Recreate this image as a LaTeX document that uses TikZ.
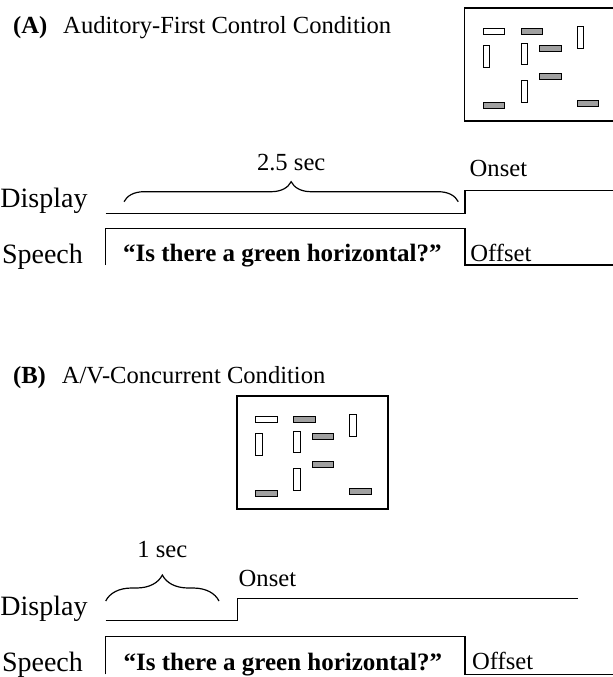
\documentclass[tikz,border=0pt]{standalone}
\usepackage{fontspec}
\setmainfont{Liberation Serif}
\usepackage{tikz}
\usetikzlibrary{decorations.pathreplacing}
\definecolor{bargray}{RGB}{160,160,160}
\tikzstyle{signal} = [draw, black, line width=0.6pt]
\tikzstyle{stimframe} = [draw, black, line width=0.75pt]
\tikzstyle{whitebar} = [draw, black, line width=0.5pt, fill=white]
\tikzstyle{greybar} = [whitebar, fill=bargray]
\tikzstyle{heading} = [anchor=base west, inner sep=0pt, font=\fontsize{12.3}{14}\selectfont]
\tikzstyle{rowname} = [anchor=base east, inner sep=0pt, font=\fontsize{14}{16}\selectfont]
\tikzstyle{marktext} = [anchor=base west, inner sep=0pt, font=\fontsize{12.3}{14}\selectfont]
\tikzstyle{timetext} = [anchor=base, inner sep=0pt, font=\fontsize{12.3}{14}\selectfont]
\tikzstyle{quotetext} = [anchor=base west, inner sep=0pt, font=\bfseries\fontsize{12.5}{15}\selectfont]
\tikzset{timebrace/.style={draw, black, line width=0.6pt, decorate, decoration={brace, amplitude=#1}}}
% search display: frame plus ten bars, top left corner at #1,#2
\newcommand{\stimpanel}[2]{
	\begin{scope}[shift={(#1,#2)}]
		\draw[stimframe] (0,0) rectangle (151,113);
		\foreach \bx/\by in {19/20, 113/92.5, 19/94, 75.5/37.5, 75.5/65, 57/20}
			\draw[greybar] (\bx,\by) rectangle ++(21.5,6.3);
		\draw[whitebar] (19,20) rectangle ++(21.5,6.3);
		\foreach \bx/\by in {113/18.5, 19/37.5, 57/35, 57/72.5}
			\draw[whitebar] (\bx,\by) rectangle ++(6.3,21.7);
	\end{scope}
}

\begin{document}
\begin{tikzpicture}[x=0.5pt, y=-0.5pt]
	\useasboundingbox (0,0) rectangle (613,677);

	% (A) auditory first
	\node[heading] (titleA) at (12.7,33){\textbf{(A)}\hspace{8pt}Auditory-First Control Condition};
	\stimpanel{464.3}{8}
	\node[rowname] (displayA) at (88,207.3){Display};
	\node[rowname] (speechA) at (83.3,263.3){Speech};
	\draw[signal] (105.7,213.3) -- (465,213.3) -- (465,190.7) -- (613,190.7);
	\draw[signal] (105.7,265) -- (105.7,228.3) -- (465,228.3) -- (465,265) -- (613,265);
	\draw[timebrace=10pt] (124,201.7) -- (458.3,201.7);
	\node[timetext] (delayA) at (291.2,170){2.5 sec};
	\node[marktext] (onsetA) at (469.3,176){Onset};
	\node[marktext] (offsetA) at (470,261.7){Offset};
	\node[quotetext] (queryA) at (122.7,261.7){``Is there a green horizontal?''};

	% (B) concurrent
	\node[heading] (titleB) at (12.7,383){\textbf{(B)}\hspace{8pt}A/V-Concurrent Condition};
	\stimpanel{237}{396}
	\node[rowname] (displayB) at (88,615){Display};
	\node[rowname] (speechB) at (83.3,671){Speech};
	\draw[signal] (105.7,620.5) -- (237.7,620.5) -- (237.7,598.3) -- (577.7,598.3);
	\draw[signal] (105.7,674.3) -- (105.7,636.7) -- (465,636.7) -- (465,674.3) -- (613,674.3);
	\draw[timebrace=13pt] (105.7,601) -- (219,601);
	\node[timetext] (delayB) at (162.4,557){1 sec};
	\node[marktext] (onsetB) at (238.3,586){Onset};
	\node[marktext] (offsetB) at (471.7,669){Offset};
	\node[quotetext] (queryB) at (123.3,670){``Is there a green horizontal?''};
\end{tikzpicture}
\end{document}
